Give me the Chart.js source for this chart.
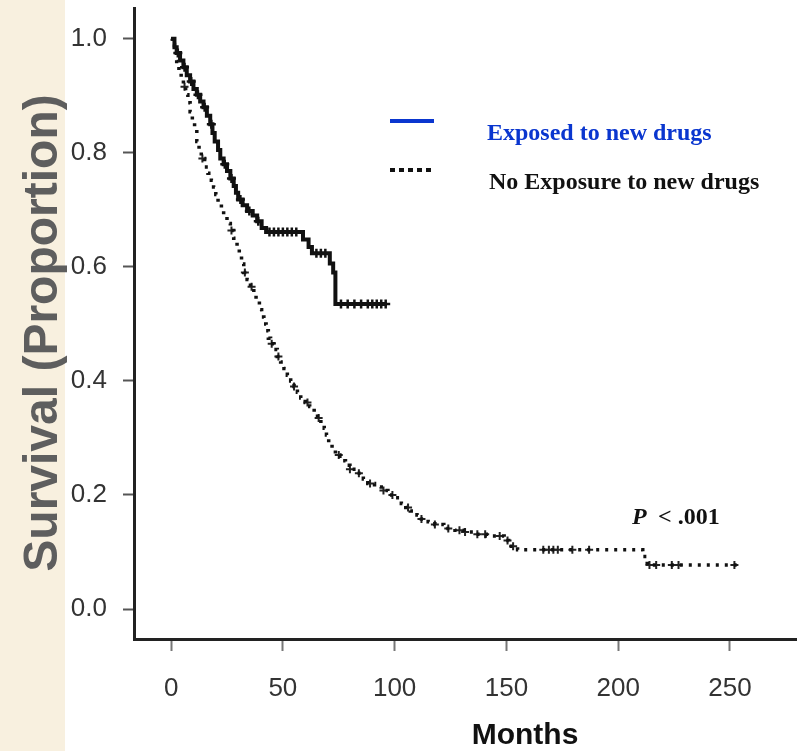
<!DOCTYPE html>
<html>
<head>
<meta charset="utf-8">
<title>Supervivencia</title>
<script src="https://cdn.jsdelivr.net/npm/chart.js@4.4.0/dist/chart.umd.min.js"></script>
<style>
  html, body { margin: 0; padding: 0; background: #fff; }
  canvas { display: block; }
</style>
</head>
<body>
<canvas id="grafica" width="797" height="751"></canvas>
<script>
// Datos (meses, proporción de supervivencia)
const etiquetasSeries = ['Exposed to new drugs', 'No Exposure to new drugs'];

// Curva de los pacientes expuestos (línea continua)
const mesesExpuestos = [0, 1.5, 2.5, 4, 5.5, 7, 8.5, 10, 11.5, 13, 14.5, 16, 17.5, 18.5, 19.5, 21, 22, 23.5, 25, 26.5, 28, 29, 30, 32, 34, 36.5, 38.5, 40.5, 42.5, 59, 61.5, 63, 71, 72.5, 73.5, 96.5];
const supervExpuestos = [1.0, 0.985, 0.975, 0.962, 0.95, 0.936, 0.925, 0.912, 0.902, 0.89, 0.88, 0.865, 0.85, 0.835, 0.82, 0.805, 0.79, 0.78, 0.768, 0.755, 0.742, 0.73, 0.718, 0.708, 0.698, 0.69, 0.68, 0.668, 0.661, 0.648, 0.635, 0.624, 0.606, 0.59, 0.535, 0.535];

// Curva de los pacientes sin exposición (línea punteada)
const mesesNoExpuestos = [0, 0.5, 1.5, 2.5, 3.5, 4.5, 5.5, 6.5, 7.5, 8.5, 9.5, 10.5, 11.5, 12.5, 13.5, 15, 16.5, 18, 19, 20, 21, 22.5, 23.5, 25, 26.5, 28, 29.5, 30.5, 31.5, 32.5, 34, 35.5, 37, 38, 39.5, 40.5, 41.5, 42.5, 43.5, 44.5, 46, 47.5, 49, 50.5, 52, 53.5, 55, 56.5, 58, 60, 62, 64, 65.5, 67, 68.5, 69.5, 70.5, 72, 73.5, 75.5, 78, 80, 83, 86, 88, 91, 94, 97, 100, 103, 105, 107, 110, 112, 115, 118, 122, 127, 131, 136, 141, 149, 151, 155, 211, 213, 253];
const supervNoExpuestos = [1.0, 0.99, 0.975, 0.96, 0.945, 0.93, 0.916, 0.902, 0.888, 0.872, 0.858, 0.843, 0.82, 0.805, 0.79, 0.775, 0.764, 0.752, 0.74, 0.727, 0.712, 0.7, 0.688, 0.676, 0.664, 0.65, 0.635, 0.62, 0.605, 0.59, 0.578, 0.565, 0.552, 0.54, 0.525, 0.512, 0.5, 0.488, 0.475, 0.465, 0.455, 0.443, 0.433, 0.422, 0.41, 0.4, 0.39, 0.38, 0.37, 0.362, 0.355, 0.343, 0.335, 0.326, 0.317, 0.305, 0.292, 0.28, 0.27, 0.26, 0.252, 0.245, 0.238, 0.228, 0.22, 0.214, 0.208, 0.2, 0.195, 0.185, 0.178, 0.172, 0.165, 0.158, 0.153, 0.148, 0.141, 0.138, 0.135, 0.131, 0.128, 0.12, 0.11, 0.104, 0.092, 0.077, 0.077];

// Meses con pacientes censurados (marcas +)
const censuraExpuestos = [3, 6, 9, 12, 15, 18, 24, 27, 31, 35, 39, 44, 46, 48, 50, 52, 54, 56, 65, 67, 69, 76, 79, 82, 85, 88, 90, 92, 94, 96];
const censuraNoExpuestos = [6, 14, 27, 33, 36, 45, 48, 55, 61, 66, 75, 80, 84, 89, 95, 99, 106, 112, 118, 124, 129, 131.5, 137, 140.5, 147, 150.5, 153, 166.5, 169, 171, 173, 179.5, 187, 214, 217, 224, 227, 252];

// Marcas de los ejes
const ticksX = [0, 50, 100, 150, 200, 250];
const ticksY = [0, 0.2, 0.4, 0.6, 0.8, 1.0];

// Valor de la curva escalonada en un mes dado (último escalón alcanzado)
function valorEn(meses, superv, t) {
  let v = superv[0];
  for (let i = 0; i < meses.length; i++) {
    if (meses[i] <= t) v = superv[i];
  }
  return v;
}

const puntosExp = mesesExpuestos.map((m, i) => ({ x: m, y: supervExpuestos[i] }));
const puntosNo = mesesNoExpuestos.map((m, i) => ({ x: m, y: supervNoExpuestos[i] }));
const marcasExp = censuraExpuestos.map((m) => ({ x: m, y: valorEn(mesesExpuestos, supervExpuestos, m) }));
const marcasNo = censuraNoExpuestos.map((m) => ({ x: m, y: valorEn(mesesNoExpuestos, supervNoExpuestos, m) }));

// Quita el relleno que Chart.js deja para las etiquetas y fija el tamaño del eje
function fijarEje(s, ancho, alto) {
  if (ancho) s.width = ancho;
  if (alto) s.height = alto;
  s.paddingTop = 0;
  s.paddingBottom = 0;
  s.paddingLeft = 0;
  s.paddingRight = 0;
}

// Plugin para el fondo, el título vertical, la leyenda y los textos sueltos
const textosExtra = {
  id: 'textosExtra',
  beforeDraw(chart) {
    const c = chart.ctx;
    c.save();
    c.fillStyle = '#ffffff';
    c.fillRect(0, 0, chart.width, chart.height);
    c.fillStyle = '#f8f0df';  // franja beige de la izquierda
    c.fillRect(0, 0, 65, chart.height);
    // título del eje Y, girado
    c.translate(57, 333);
    c.rotate(-Math.PI / 2);
    c.fillStyle = '#5e5e5e';
    c.font = 'bold 48px "Liberation Sans", Arial, sans-serif';
    c.textAlign = 'center';
    c.textBaseline = 'alphabetic';
    c.fillText('Survival (Proportion)', 0, 0);
    c.restore();
  },
  afterDraw(chart) {
    const c = chart.ctx;
    c.save();
    // leyenda: muestra azul continua
    c.strokeStyle = '#0a36cf';
    c.lineWidth = 4;
    c.beginPath();
    c.moveTo(390, 121);
    c.lineTo(434, 121);
    c.stroke();
    // leyenda: muestra punteada negra
    c.strokeStyle = '#111';
    c.setLineDash([5, 4]);
    c.beginPath();
    c.moveTo(390, 170);
    c.lineTo(434, 170);
    c.stroke();
    c.setLineDash([]);

    c.textAlign = 'left';
    c.textBaseline = 'middle';
    c.font = 'bold 24px "Liberation Serif", "Times New Roman", serif';
    c.fillStyle = '#0a36cf';
    c.fillText(etiquetasSeries[0], 487, 134);
    c.fillStyle = '#111';
    c.fillText(etiquetasSeries[1], 489, 183);

    // valor p
    c.font = 'italic bold 24px "Liberation Serif", "Times New Roman", serif';
    c.fillText('P', 632, 518);
    c.font = 'bold 24px "Liberation Serif", "Times New Roman", serif';
    c.fillText('< .001', 658, 518);

    // título del eje X
    c.textAlign = 'center';
    c.font = 'bold 30px "Liberation Sans", Arial, sans-serif';
    c.fillText('Months', 525, 736);
    c.restore();
  }
};

const ctx = document.getElementById('grafica');

new Chart(ctx, {
  type: 'line',
  data: {
    datasets: [
      {
        label: etiquetasSeries[0],
        data: puntosExp,
        borderColor: '#111',
        borderWidth: 4,
        stepped: 'before',
        pointRadius: 0,
        fill: false
      },
      {
        label: etiquetasSeries[1],
        data: puntosNo,
        borderColor: '#111',
        borderWidth: 3.5,
        borderDash: [3, 6],
        stepped: 'before',
        pointRadius: 0,
        fill: false
      },
      {
        label: 'censura expuestos',
        data: marcasExp,
        showLine: false,
        pointStyle: 'cross',
        pointRadius: 4.5,
        borderColor: '#111',
        borderWidth: 2.5
      },
      {
        label: 'censura sin exposición',
        data: marcasNo,
        showLine: false,
        pointStyle: 'cross',
        pointRadius: 4,
        borderColor: '#222',
        borderWidth: 2
      }
    ]
  },
  options: {
    responsive: false,
    animation: false,
    layout: { autoPadding: false, padding: { top: 8, left: 0, right: 0, bottom: 0 } },
    plugins: {
      legend: { display: false },
      tooltip: { enabled: false }
    },
    scales: {
      x: {
        type: 'linear',
        min: -16.6,
        max: 280,
        afterBuildTicks: (s) => { s.ticks = ticksX.map((v) => ({ value: v })); },
        afterFit: (s) => fijarEje(s, 0, 112),
        grid: { drawOnChartArea: false, drawTicks: true, tickLength: 12, tickColor: '#777', tickWidth: 2 },
        border: { color: '#222', width: 3 },
        ticks: {
          font: { family: '"Liberation Sans", Arial, sans-serif', size: 26 },
          color: '#333',
          padding: 22,
          maxRotation: 0
        }
      },
      y: {
        type: 'linear',
        min: -0.0526,
        max: 1.054,
        afterBuildTicks: (s) => { s.ticks = ticksY.map((v) => ({ value: v })); },
        afterFit: (s) => fijarEje(s, 134, 0),
        grid: { drawOnChartArea: false, drawTicks: true, tickLength: 11, tickColor: '#555', tickWidth: 2 },
        border: { color: '#222', width: 3 },
        ticks: {
          font: { family: '"Liberation Sans", Arial, sans-serif', size: 26 },
          color: '#333',
          padding: 16,
          callback: (v) => v.toFixed(1)
        }
      }
    }
  },
  plugins: [textosExtra]
});
</script>
</body>
</html>
